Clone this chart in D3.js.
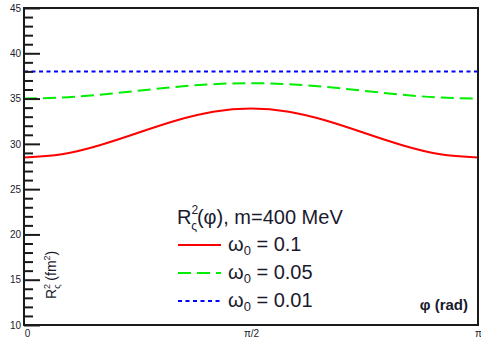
<!DOCTYPE html>
<html>
<head>
<meta charset="utf-8">
<script src="https://cdn.jsdelivr.net/npm/d3@7"></script>
<style>
  html, body { margin: 0; padding: 0; background: #fff; }
  svg { display: block; }
  text { font-family: "Liberation Sans", Arial, Helvetica, sans-serif; fill: #1a1a2e; }
</style>
</head>
<body>
<svg id="chart" width="481" height="343"></svg>
<script>
// Azimuthal angle samples (rad), 0 .. pi in steps of pi/12
const phi = [0, 0.2618, 0.5236, 0.7854, 1.0472, 1.3090, 1.5708,
             1.8326, 2.0944, 2.3562, 2.6180, 2.8798, 3.1416];

// R^2 (fm^2) for each initial flow value
const r2Omega01  = [28.50, 28.86, 29.85, 31.20, 32.55, 33.54, 33.90,
                    33.54, 32.55, 31.20, 29.85, 28.86, 28.50];
const r2Omega005 = [35.00, 35.11, 35.43, 35.85, 36.28, 36.59, 36.70,
                    36.59, 36.28, 35.85, 35.43, 35.11, 35.00];
const r2Omega001 = [38.00, 38.00, 38.00, 38.00, 38.00, 38.00, 38.00,
                    38.00, 38.00, 38.00, 38.00, 38.00, 38.00];

const seriesNames = ["0.1", "0.05", "0.01"];
const seriesData = [r2Omega01, r2Omega005, r2Omega001];

const yMajorTicks = [10, 15, 20, 25, 30, 35, 40, 45];
const xTickValues = [0, Math.PI / 2, Math.PI];
const xTickLabels = ["0", "\u03c0/2", "\u03c0"];

const svg = d3.select("#chart");
const frame = { left: 24, right: 478, top: 8, bottom: 325 };

const x = d3.scaleLinear().domain([0, Math.PI]).range([frame.left, frame.right]);
const y = d3.scaleLinear().domain([10, 45]).range([frame.bottom, frame.top]);

const styles = [
  { color: "#ff0000", dash: null },
  { color: "#00ee00", dash: "13,6" },
  { color: "#0000ff", dash: "4,3.5" }
];

// Curves
const line = d3.line()
  .x((d, i) => x(phi[i]))
  .y(d => y(d))
  .curve(d3.curveNatural);

seriesData.forEach((vals, k) => {
  svg.append("path")
    .datum(vals)
    .attr("d", line)
    .attr("fill", "none")
    .attr("stroke", styles[k].color)
    .attr("stroke-width", 2)
    .attr("stroke-dasharray", styles[k].dash);
});

// Y axis: major + minor ticks pointing into the frame
const yMinor = d3.range(10, 46).filter(v => v % 5 !== 0);
const gyMinor = svg.append("g")
  .attr("transform", `translate(${frame.left},0)`)
  .call(d3.axisLeft(y).tickValues(yMinor).tickSize(-9).tickFormat(""));
const gy = svg.append("g")
  .attr("transform", `translate(${frame.left},0)`)
  .call(d3.axisLeft(y).tickValues(yMajorTicks).tickSize(-16).tickPadding(3).tickFormat(d3.format("d")));
[gy, gyMinor].forEach(g => {
  g.select(".domain").remove();
  g.selectAll("line").attr("stroke", "#1a1a1a").attr("stroke-width", 2);
});
gy.selectAll("text").attr("font-size", 10).attr("fill", "#2a2a4a")
  .style("font-family", "'Liberation Sans', Arial, sans-serif");

// X axis labels
const gx = svg.append("g")
  .attr("transform", `translate(0,${frame.bottom})`)
  .call(d3.axisBottom(x).tickValues(xTickValues).tickSize(0).tickPadding(5)
    .tickFormat((d, i) => xTickLabels[i]));
gx.select(".domain").remove();
gx.selectAll("text").attr("font-size", 10).attr("fill", "#2a2a4a")
  .attr("dx", (d, i) => i === 0 ? 3 : 0)
  .style("font-family", "'Liberation Sans', Arial, sans-serif");

// Frame
svg.append("rect")
  .attr("x", frame.left).attr("y", frame.top)
  .attr("width", frame.right - frame.left).attr("height", frame.bottom - frame.top)
  .attr("fill", "none").attr("stroke", "#1a1a1a").attr("stroke-width", 2);

// Axis titles
const yTitle = svg.append("text")
  .attr("transform", "translate(56,299) rotate(-90)")
  .attr("font-size", 14);
yTitle.append("tspan").text("R");
yTitle.append("tspan").attr("font-size", 9).attr("dy", -6).text("2");
yTitle.append("tspan").attr("font-size", 9).attr("dx", -5).attr("dy", 10).text("\u03c2");
yTitle.append("tspan").attr("dy", -4).text(" (fm");
yTitle.append("tspan").attr("font-size", 9).attr("dy", -6).text("2");
yTitle.append("tspan").attr("dy", 6).text(")");

svg.append("text")
  .attr("x", 468).attr("y", 310)
  .attr("text-anchor", "end")
  .attr("font-size", 15).attr("font-weight", "bold")
  .text("\u03c6 (rad)");

// Legend
const lgX = 177;
const title = svg.append("text").attr("x", lgX).attr("y", 224).attr("font-size", 20);
title.append("tspan").text("R");
title.append("tspan").attr("font-size", 12).attr("dy", -10).text("2");
title.append("tspan").attr("font-size", 12).attr("dx", -7).attr("dy", 16).text("\u03c2");
title.append("tspan").attr("dy", -6).text("(\u03c6), m=400 MeV");

const rowY = [251, 279, 307];
seriesNames.forEach((name, k) => {
  svg.append("line")
    .attr("x1", 178).attr("x2", 221)
    .attr("y1", rowY[k] - 6).attr("y2", rowY[k] - 6)
    .attr("stroke", styles[k].color)
    .attr("stroke-width", 2)
    .attr("stroke-dasharray", styles[k].dash);
  const t = svg.append("text").attr("x", 228).attr("y", rowY[k]).attr("font-size", 20);
  t.append("tspan").text("\u03c9");
  t.append("tspan").attr("font-size", 13).attr("dy", 4).text("0");
  t.append("tspan").attr("dy", -4).text(" = " + name);
});
</script>
</body>
</html>
